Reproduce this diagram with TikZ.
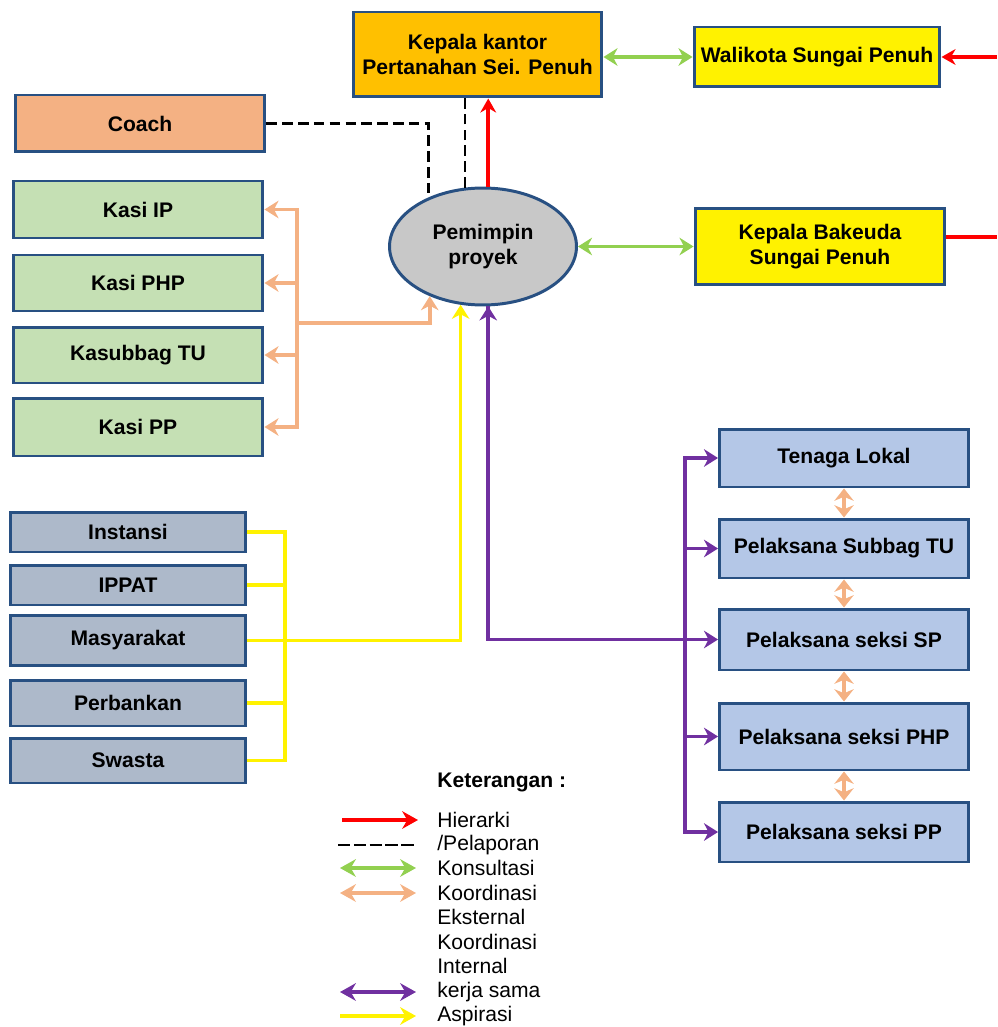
\documentclass[tikz,border=0pt]{standalone}
\usepackage{fontspec}
\setmainfont{Liberation Sans}
\usetikzlibrary{arrows.meta,shapes.geometric}
\definecolor{boxline}{RGB}{40,80,130}
\definecolor{kkfill}{RGB}{255,192,0}
\definecolor{coachfill}{RGB}{244,177,131}
\definecolor{kasifill}{RGB}{197,224,180}
\definecolor{ppfill}{RGB}{200,200,200}
\definecolor{extfill}{RGB}{173,185,202}
\definecolor{pelfill}{RGB}{180,199,231}
\definecolor{konsulgreen}{RGB}{146,208,80}
\definecolor{koordorange}{RGB}{244,177,131}
\definecolor{kerjapurple}{RGB}{112,48,160}
\begin{document}
\begin{tikzpicture}[x=0.02cm, y=-0.02cm,
	main/.style = {draw=boxline, line width=1.7pt, rectangle, align=center, inner sep=2pt,
		font=\fontsize{12}{14.5}\selectfont\bfseries},
	hier/.style = {draw=red, line width=2pt, -{Stealth[length=8pt,width=9pt]}},
	lapor/.style = {draw=black, line width=1.6pt, dash pattern=on 6pt off 3pt},
	konsul/.style = {draw=konsulgreen, line width=2pt, {Stealth[length=8pt,width=10pt]}-{Stealth[length=8pt,width=10pt]}},
	koord/.style = {draw=koordorange, line width=2pt},
	kerja/.style = {draw=kerjapurple, line width=2pt},
	aspi/.style = {draw=yellow, line width=2pt},
	tip/.style = {-{Stealth[length=8pt,width=10pt]}},
	dbl/.style = {{Stealth[length=7pt,width=11pt]}-{Stealth[length=7pt,width=11pt]}},
	ket/.style = {anchor=west, inner sep=0pt, font=\fontsize{12}{14.5}\selectfont}]
	\useasboundingbox (0,0) rectangle (997,1027);
	% pimpinan
	\node[main, fill=kkfill, minimum width=4.98cm, minimum height=1.7cm] (kk) at (477.5,54.5) {Kepala kantor\\Pertanahan Sei. Penuh};
	\node[main, fill=yellow, minimum width=4.92cm, minimum height=1.2cm] (wk) at (817,57) {Walikota Sungai Penuh};
	\node[main, fill=yellow, minimum width=5cm, minimum height=1.54cm] (bk) at (820,246.5) {Kepala Bakeuda\\Sungai Penuh};
	\node[main, ellipse, fill=ppfill, minimum width=3.74cm, minimum height=2.34cm, inner sep=0pt] (pp) at (483,246.5) {Pemimpin\\proyek};
	\node[main, fill=coachfill, minimum width=5cm, minimum height=1.14cm] (coach) at (140,123.5) {Coach};
	% kasi
	\node[main, fill=kasifill, minimum width=5cm, minimum height=1.14cm] (kip) at (138,209.5) {Kasi IP};
	\node[main, fill=kasifill, minimum width=5cm, minimum height=1.12cm] (kphp) at (138,283) {Kasi PHP};
	\node[main, fill=kasifill, minimum width=5cm, minimum height=1.12cm] (ktu) at (138,355) {Kasubbag TU};
	\node[main, fill=kasifill, minimum width=5cm, minimum height=1.16cm] (kpp) at (138,427) {Kasi PP};
	% eksternal
	\node[main, fill=extfill, minimum width=4.72cm, minimum height=0.8cm] (inst) at (128,532) {Instansi};
	\node[main, fill=extfill, minimum width=4.72cm, minimum height=0.8cm] (ippat) at (128,585) {IPPAT};
	\node[main, fill=extfill, minimum width=4.72cm, minimum height=1cm] (masy) at (128,640.5) {Masyarakat};
	\node[main, fill=extfill, minimum width=4.72cm, minimum height=0.92cm] (bank) at (128,703) {Perbankan};
	\node[main, fill=extfill, minimum width=4.72cm, minimum height=0.9cm] (swas) at (128,760.5) {Swasta};
	% pelaksana
	\node[main, fill=pelfill, minimum width=4.98cm, minimum height=1.16cm] (tl) at (844,458) {Tenaga Lokal};
	\node[main, fill=pelfill, minimum width=4.98cm, minimum height=1.18cm] (ptu) at (844,548.5) {Pelaksana Subbag TU};
	\node[main, fill=pelfill, minimum width=4.98cm, minimum height=1.22cm] (psp) at (844,639.5) {Pelaksana seksi SP};
	\node[main, fill=pelfill, minimum width=4.98cm, minimum height=1.34cm] (pphp) at (844,736.5) {Pelaksana seksi PHP};
	\node[main, fill=pelfill, minimum width=4.98cm, minimum height=1.2cm] (ppp) at (844,832) {Pelaksana seksi PP};
	% hierarki dan pelaporan
	\coordinate (wkin) at (997,57);
	\coordinate (bkout) at (997,237);
	\draw[hier] (pp.85) -- (pp.85 |- kk.south);
	\draw[hier] (wkin) -- (wk.east);
	\draw[hier, -] (bk.east |- bkout) -- (bkout);
	\draw[lapor] (pp.107) -- (pp.107 |- kk.south);
	\draw[lapor] (coach.east) -| (pp.138);
	% konsultasi
	\draw[konsul] (wk.west -| kk.east) -- (wk.west);
	\draw[konsul] (pp.east) -- (bk.west);
	% koordinasi eksternal
	\coordinate (kbus) at (297,323);
	\draw[koord, tip] (kbus) -| (pp.223);
	\draw[koord, tip] (kbus) |- (kip.east);
	\draw[koord, tip] (kbus) |- (kphp.east);
	\draw[koord, tip] (kbus) |- (ktu.east);
	\draw[koord, tip] (kbus) |- (kpp.east);
	% koordinasi internal
	\draw[koord, dbl] (tl.south) -- (ptu.north);
	\draw[koord, dbl] (ptu.south) -- (psp.north);
	\draw[koord, dbl] (psp.south) -- (pphp.north);
	\draw[koord, dbl] (pphp.south) -- (ppp.north);
	% kerja sama
	\coordinate (pbus) at (685,639.5);
	\draw[kerja, tip] (pp.275) |- (psp.west);
	\draw[kerja, tip] (pbus) -- (pp.275 |- pbus) -- (pp.275);
	\draw[kerja, tip] (pbus) |- (tl.west);
	\draw[kerja, tip] (pbus) |- (ptu.west);
	\draw[kerja, tip] (pbus) |- (pphp.west);
	\draw[kerja, tip] (pbus) |- (ppp.west);
	% aspirasi
	\coordinate (ybus) at (285,640.5);
	\draw[aspi] (inst.east) -| (ybus);
	\draw[aspi] (ippat.east) -| (ybus);
	\draw[aspi] (bank.east) -| (ybus);
	\draw[aspi] (swas.east) -| (ybus);
	\draw[aspi] (masy.east) -- (ybus);
	\draw[aspi, tip] (ybus) -| (pp.249);
	% keterangan
	\node[ket, font=\fontsize{12}{14.5}\selectfont\bfseries] (ket) at (437,782) {Keterangan :};
	\node[ket] (t1) at (437,820) {Hierarki};
	\node[ket] (t2) at (437,845) {/Pelaporan};
	\node[ket] (t3) at (437,868) {Konsultasi};
	\node[ket] (t4) at (437,893) {Koordinasi};
	\node[ket] (t5) at (437,917) {Eksternal};
	\node[ket] (t6) at (437,942) {Koordinasi};
	\node[ket] (t7) at (437,966) {Internal};
	\node[ket] (t8) at (437,992) {kerja sama};
	\node[ket] (t9) at (437,1016) {Aspirasi};
	\coordinate (l1a) at (342,820);
	\coordinate (l1b) at (418,820);
	\coordinate (l2a) at (338,845);
	\coordinate (l2b) at (416,845);
	\coordinate (l3a) at (340,868);
	\coordinate (l3b) at (416,868);
	\coordinate (l4a) at (340,893);
	\coordinate (l4b) at (416,893);
	\coordinate (l8a) at (340,992);
	\coordinate (l8b) at (416,992);
	\coordinate (l9a) at (340,1016);
	\coordinate (l9b) at (416,1016);
	\draw[hier, -{Stealth[length=9pt,width=10pt]}] (l1a) -- (l1b);
	\draw[lapor, line width=1.3pt, dash pattern=on 7pt off 2pt] (l2a) -- (l2b);
	\draw[konsul, {Stealth[length=9pt,width=10pt]}-{Stealth[length=9pt,width=10pt]}] (l3a) -- (l3b);
	\draw[koord, {Stealth[length=9pt,width=10pt]}-{Stealth[length=9pt,width=10pt]}] (l4a) -- (l4b);
	\draw[kerja, {Stealth[length=9pt,width=10pt]}-{Stealth[length=9pt,width=10pt]}] (l8a) -- (l8b);
	\draw[aspi, -{Stealth[length=9pt,width=10pt]}] (l9a) -- (l9b);
\end{tikzpicture}
\end{document}
